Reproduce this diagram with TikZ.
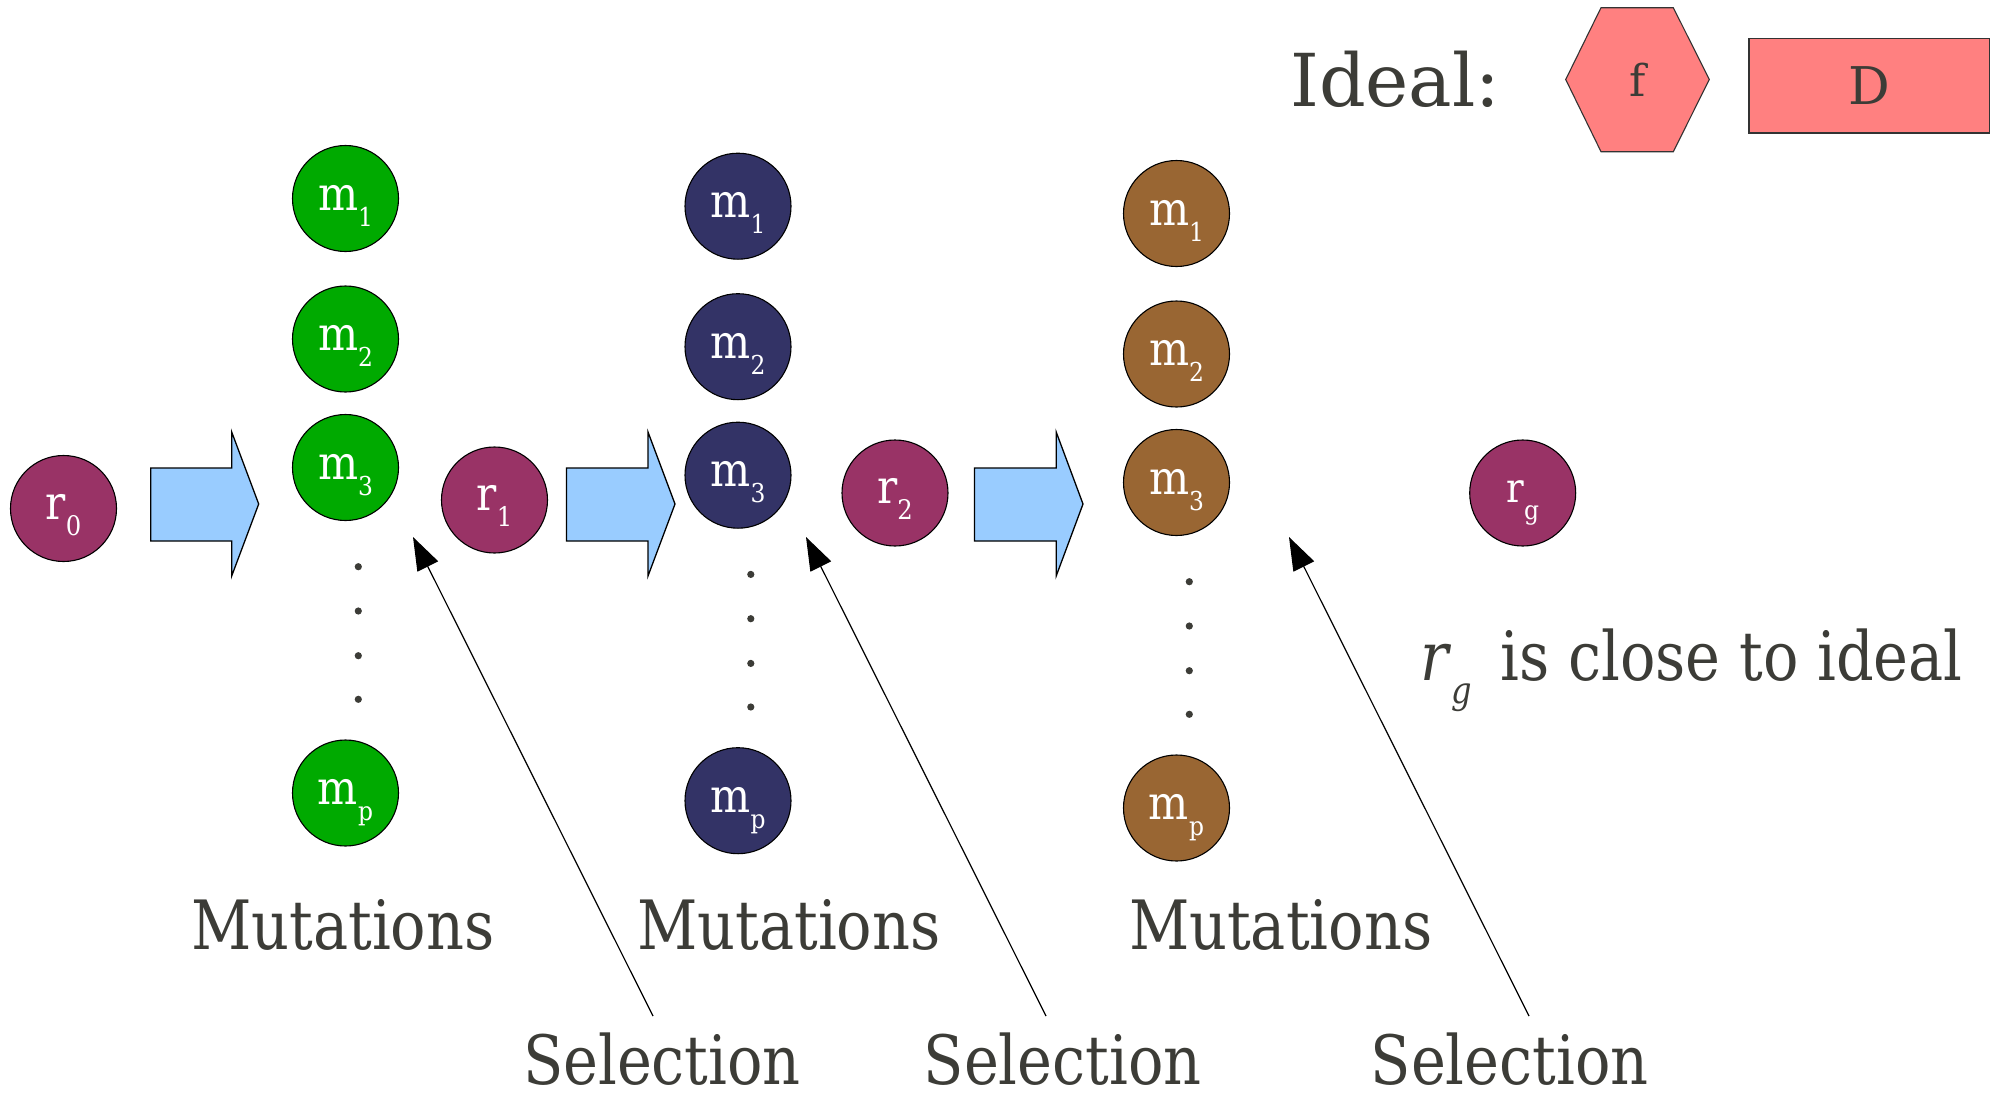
\documentclass[tikz,border=0pt]{standalone}
\usepackage{fontspec}
\setmainfont{DejaVu Serif Condensed}
\newfontfamily\wideserif{DejaVu Serif}
\usetikzlibrary{arrows.meta}
\definecolor{tgray}{RGB}{60,60,55}
\definecolor{mgreen}{RGB}{0,170,0}
\definecolor{mnavy}{RGB}{51,51,102}
\definecolor{mbrown}{RGB}{153,102,51}
\definecolor{rpurple}{RGB}{153,51,102}
\definecolor{ablue}{RGB}{153,204,255}
\definecolor{ipink}{RGB}{255,128,128}
\newcommand\lowsub[3]{\raisebox{-#1}{\fontsize{#2}{#2}\selectfont #3}}
\newcommand\mtxt[1]{\raisebox{0pt}[30pt][7pt]{m\lowsub{16pt}{26}{#1}}}
\newcommand\rtxt[1]{\raisebox{0pt}[28pt][6.4pt]{r\lowsub{16pt}{27}{#1}}}
\newcommand\narrow[1]{\scalebox{0.963}[1]{#1}}
\begin{document}
\begin{tikzpicture}[x=1pt,y=-1pt,
  ball/.style={circle, draw=black, line width=1.1pt, minimum size=106pt, inner sep=0pt,
    text=white, font=\fontsize{47}{47}\selectfont},
  rball/.style={ball, fill=rpurple},
  bigtext/.style={text=tgray, font=\fontsize{68}{68}\selectfont, inner sep=0pt},
  smalltext/.style={text=tgray, font=\wideserif\fontsize{44}{44}\selectfont, inner sep=0pt},
  bigarrow/.style={fill=ablue, draw=black, line width=1.3pt, line join=miter},
  selarrow/.style={draw=black, line width=1.2pt, -{Triangle[length=33pt,width=23pt]}},
  dotmark/.style={fill=tgray}
]
\useasboundingbox (0,0) rectangle (2005,1095);

% r nodes
\node[rball] (r0) at (63.5,508.5) {\rtxt{0}};
\node[rball] (r1) at (494.5,500) {\rtxt{1}};
\node[rball] (r2) at (895,493) {\rtxt{2}};
\node[rball, font=\fontsize{41}{41}\selectfont] (rg) at (1522.7,493)
  {\raisebox{0pt}[25pt][5.6pt]{r\lowsub{17pt}{26}{g}}};

% big arrows
\foreach \a/\b/\c in {150.7/231.7/258.7, 566.5/648/675, 974.4/1056.2/1083}{
  \draw[bigarrow] (\a,468) -- (\b,468) -- (\b,432) -- (\c,504) -- (\b,576) -- (\b,541) -- (\a,541) -- cycle;
}

% mutation columns
\foreach \col/\x/\dy in {mgreen/345.5/0, mnavy/738/7.7, mbrown/1176.5/15}{
  \node[ball, fill=\col] (m1\col) at (\x,198.5+\dy) {\mtxt{1}};
  \node[ball, fill=\col] (m2\col) at (\x,339+\dy) {\mtxt{2}};
  \node[ball, fill=\col] (m3\col) at (\x,467.5+\dy) {\mtxt{3}};
  \node[ball, fill=\col] (mp\col) at (\x,793+\dy) {\mtxt{p}};
  \foreach \yy in {566.7,611,655.7,699.3}{
    \fill[dotmark] (\x+12.8,\yy+\dy) circle (3.6);
  }
}

% labels
\node[bigtext, anchor=base] (mut1) at (343,949) {\narrow{Mutations}};
\node[bigtext, anchor=base] (mut2) at (789,949) {\narrow{Mutations}};
\node[bigtext, anchor=base] (mut3) at (1280.6,949) {\narrow{Mutations}};
\node[bigtext, anchor=base] (sel1) at (662,1084) {\narrow{Selection}};
\node[bigtext, anchor=base] (sel2) at (1062.6,1084) {\narrow{Selection}};
\node[bigtext, anchor=base] (sel3) at (1509.6,1084) {\narrow{Selection}};

% selection arrows
\coordinate (s1) at (653,1016);
\coordinate (t1) at (413,537);
\coordinate (s2) at (1046,1016);
\coordinate (t2) at (806,537);
\coordinate (s3) at (1529,1016);
\coordinate (t3) at (1289,537);
\draw[selarrow] (s1) -- (t1);
\draw[selarrow] (s2) -- (t2);
\draw[selarrow] (s3) -- (t3);

% ideal
\node[text=tgray, font=\wideserif\fontsize{73}{73}\selectfont, inner sep=0pt, anchor=base west] (ideal) at (1290,106.7) {Ideal:};
\draw[fill=ipink, draw=black!80, line width=1.1pt] (1565.7,79.5) -- (1601,7.7) -- (1673.3,7.7) -- (1709.3,79.5) -- (1673.3,151.7) -- (1601,151.7) -- cycle;
\node[smalltext] (f) at (1637.5,79.5) {f};
\node[draw=black!80, fill=ipink, line width=1.1pt, minimum width=240.6pt, minimum height=94.6pt,
  smalltext, font=\wideserif\fontsize{52}{52}\selectfont] (D) at (1869.3,85.7) {\raisebox{-4pt}{D}};

% conclusion
\node[bigtext, anchor=base west] (concl) at (1420,680.7)
  {\narrow{\textit{r}\lowsub{23pt}{37}{\textit{g}}\kern 30pt is close to ideal}};
\end{tikzpicture}
\end{document}
